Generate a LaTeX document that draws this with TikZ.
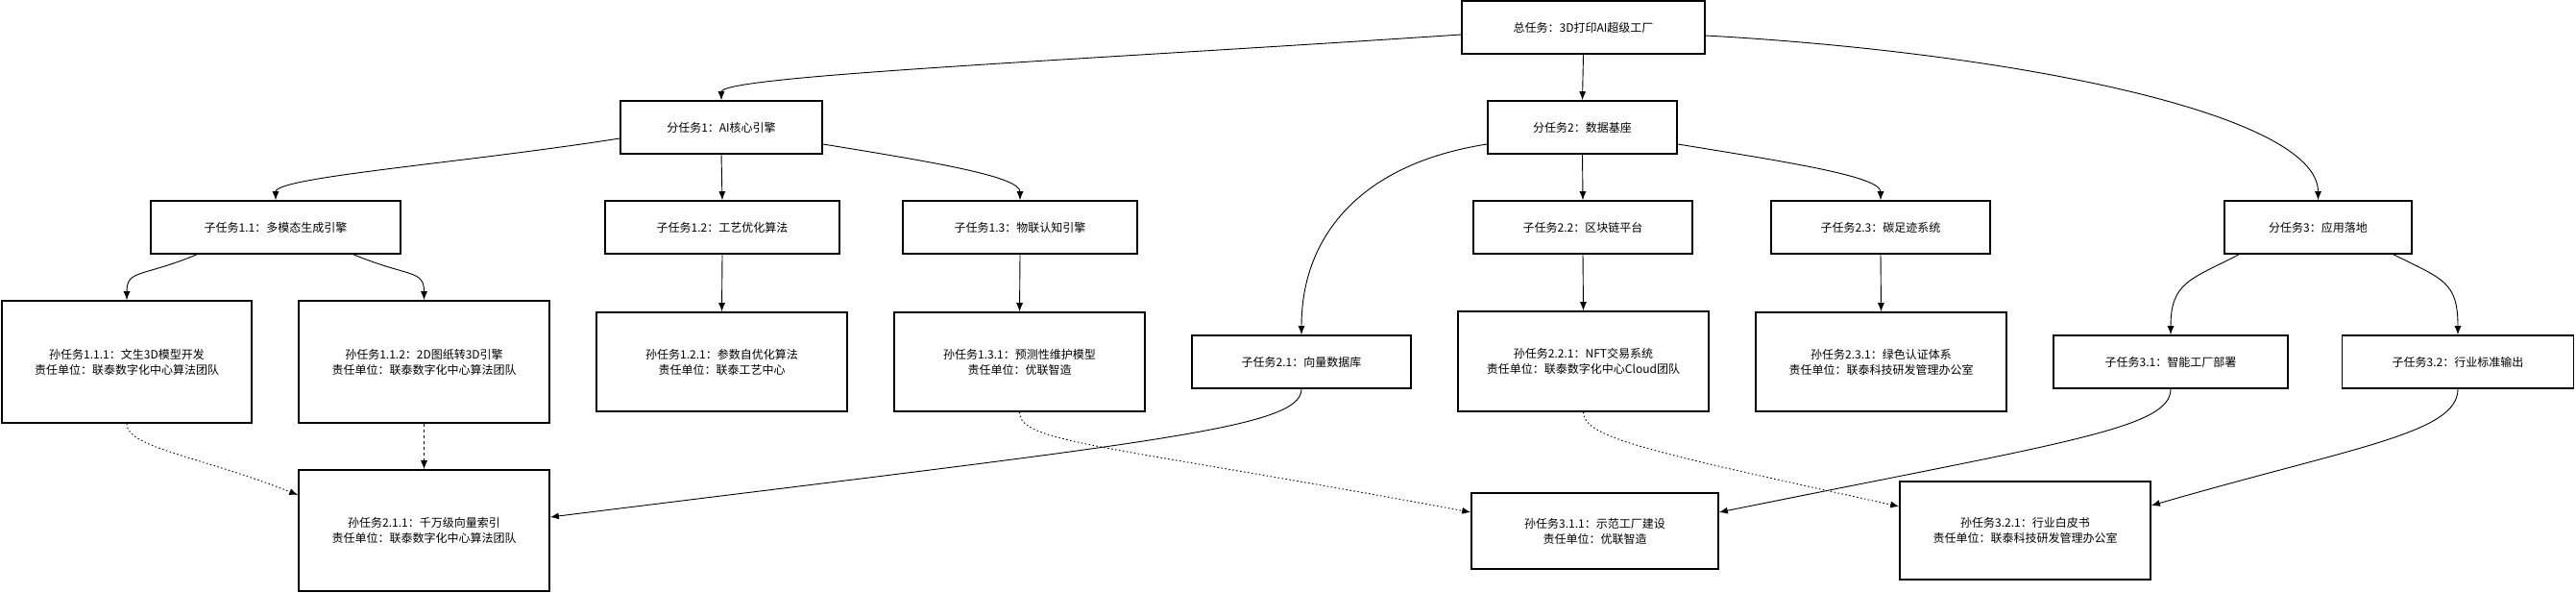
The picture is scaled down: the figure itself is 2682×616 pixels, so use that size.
\documentclass[tikz,border=0pt]{standalone}
\usepackage{fontspec}
\setmainfont{Noto Sans CJK SC}
\usetikzlibrary{arrows.meta}
\tikzset{
  box/.style={draw=black, line width=1.6pt, fill=white, align=center, inner sep=2pt,
    font=\fontsize{12}{16}\selectfont},
  conn/.style={-{Latex[length=9pt,width=7pt]}, line width=0.9pt, black},
  dotconn/.style={conn, dash pattern=on 1.5pt off 2.5pt},
  dashconn/.style={conn, dash pattern=on 3pt off 3pt},
}
\begin{document}
\begin{tikzpicture}[x=1pt,y=-1pt]
\useasboundingbox (0,0) rectangle (2682,616);
% top
\node[box, minimum width=253pt, minimum height=55pt] (T) at (1648.5,28.5) {总任务：3D打印AI超级工厂};
% level 1
\node[box, minimum width=210pt, minimum height=55pt] (F1) at (751,132.5) {分任务1：AI核心引擎};
\node[box, minimum width=197pt, minimum height=55pt] (F2) at (1647.5,132.5) {分任务2：数据基座};
\node[box, minimum width=195pt, minimum height=55pt] (F3) at (2413.5,236.5) {分任务3：应用落地};
% level 2
\node[box, minimum width=260pt, minimum height=55pt] (Z11) at (287,236.5) {子任务1.1：多模态生成引擎};
\node[box, minimum width=244pt, minimum height=55pt] (Z12) at (752,236.5) {子任务1.2：工艺优化算法};
\node[box, minimum width=244pt, minimum height=55pt] (Z13) at (1062,236.5) {子任务1.3：物联认知引擎};
\node[box, minimum width=228pt, minimum height=55pt] (Z22) at (1648,236.5) {子任务2.2：区块链平台};
\node[box, minimum width=228pt, minimum height=55pt] (Z23) at (1958,236.5) {子任务2.3：碳足迹系统};
\node[box, minimum width=228pt, minimum height=55pt] (Z21) at (1355,376.5) {子任务2.1：向量数据库};
\node[box, minimum width=244pt, minimum height=55pt] (Z31) at (2260,376.5) {子任务3.1：智能工厂部署};
\node[box, minimum width=241pt, minimum height=55pt] (Z32) at (2559,376.5) {子任务3.2：行业标准输出};
% level 3
\node[box, minimum width=260pt, minimum height=127pt] (S111) at (132,376.5) {孙任务1.1.1：文生3D模型开发\\责任单位：联泰数字化中心算法团队};
\node[box, minimum width=261pt, minimum height=127pt] (S112) at (441.5,376.5) {孙任务1.1.2：2D图纸转3D引擎\\责任单位：联泰数字化中心算法团队};
\node[box, minimum width=261pt, minimum height=103pt] (S121) at (751.5,376.5) {孙任务1.2.1：参数自优化算法\\责任单位：联泰工艺中心};
\node[box, minimum width=261pt, minimum height=103pt] (S131) at (1061.5,376.5) {孙任务1.3.1：预测性维护模型\\责任单位：优联智造};
\node[box, minimum width=261pt, minimum height=104pt] (S221) at (1648.5,376) {孙任务2.2.1：NFT交易系统\\责任单位：联泰数字化中心Cloud团队};
\node[box, minimum width=261pt, minimum height=103pt] (S231) at (1958.5,376.5) {孙任务2.3.1：绿色认证体系\\责任单位：联泰科技研发管理办公室};
\node[box, minimum width=261pt, minimum height=126pt] (S211) at (441.5,552) {孙任务2.1.1：千万级向量索引\\责任单位：联泰数字化中心算法团队};
\node[box, minimum width=257pt, minimum height=79pt] (S311) at (1660.5,552.5) {孙任务3.1.1：示范工厂建设\\责任单位：优联智造};
\node[box, minimum width=261pt, minimum height=102pt] (S321) at (2108.5,552) {孙任务3.2.1：行业白皮书\\责任单位：联泰科技研发管理办公室};
% connectors from top
\draw[conn] ([yshift=-7.5pt]T.west) .. controls +(-422,28) and +(0,-25) .. (F1.north);
\draw[conn] (T.south) -- (F2.north);
\draw[conn] ([yshift=-8.5pt]T.east) .. controls +(325,18) and +(0,-89) .. (F3.north);
% from F1
\draw[conn] ([yshift=-11.5pt]F1.west) .. controls +(-166,26) and +(0,-24) .. (Z11.north);
\draw[conn] (F1.south) -- (Z12.north);
\draw[conn] ([yshift=-17.5pt]F1.east) .. controls +(124,20) and +(0,-24) .. (Z13.north);
% from F2
\draw[conn] ([yshift=-17.5pt]F2.west) .. controls +(-129,20) and +(0,-105) .. (Z21.north);
\draw[conn] (F2.south) -- (Z22.north);
\draw[conn] ([yshift=-17.5pt]F2.east) .. controls +(124,20) and +(0,-24) .. (Z23.north);
% from F3
\draw[conn] ([xshift=-82.5pt]F3.south) .. controls +(-50,26) and +(0,-55) .. (Z31.north);
\draw[conn] ([xshift=78.5pt]F3.south) .. controls +(52,26) and +(0,-55) .. (Z32.north);
% level 2 to 3
\draw[conn] ([xshift=-82pt]Z11.south) .. controls +(-58,24) and +(0,-32) .. (S111.north);
\draw[conn] ([xshift=81pt]Z11.south) .. controls +(58,24) and +(0,-32) .. (S112.north);
\draw[conn] (Z12.south) -- (S121.north);
\draw[conn] (Z13.south) -- (S131.north);
\draw[conn] (Z22.south) -- (S221.north);
\draw[conn] (Z23.south) -- (S231.north);
\draw[conn] (Z21.south) .. controls +(0,41) and +(628,-78) .. ([yshift=14pt]S211.east);
\draw[conn] (Z31.south) .. controls +(0,41) and +(361,-73) .. ([yshift=19.5pt]S311.east);
\draw[conn] (Z32.south) .. controls +(0,46) and +(211,-61) .. ([yshift=26pt]S321.east);
% dependencies
\draw[dotconn] (S111.south) .. controls +(0,25) and +(-101,-40) .. ([yshift=37pt]S211.west);
\draw[dashconn] (S112.south) -- (S211.north);
\draw[dotconn] (S131.south) .. controls +(0,32) and +(-382,-71) .. ([yshift=19.5pt]S311.west);
\draw[dotconn] (S221.south) .. controls +(0,27) and +(-258,-57) .. ([yshift=25pt]S321.west);
\end{tikzpicture}
\end{document}
